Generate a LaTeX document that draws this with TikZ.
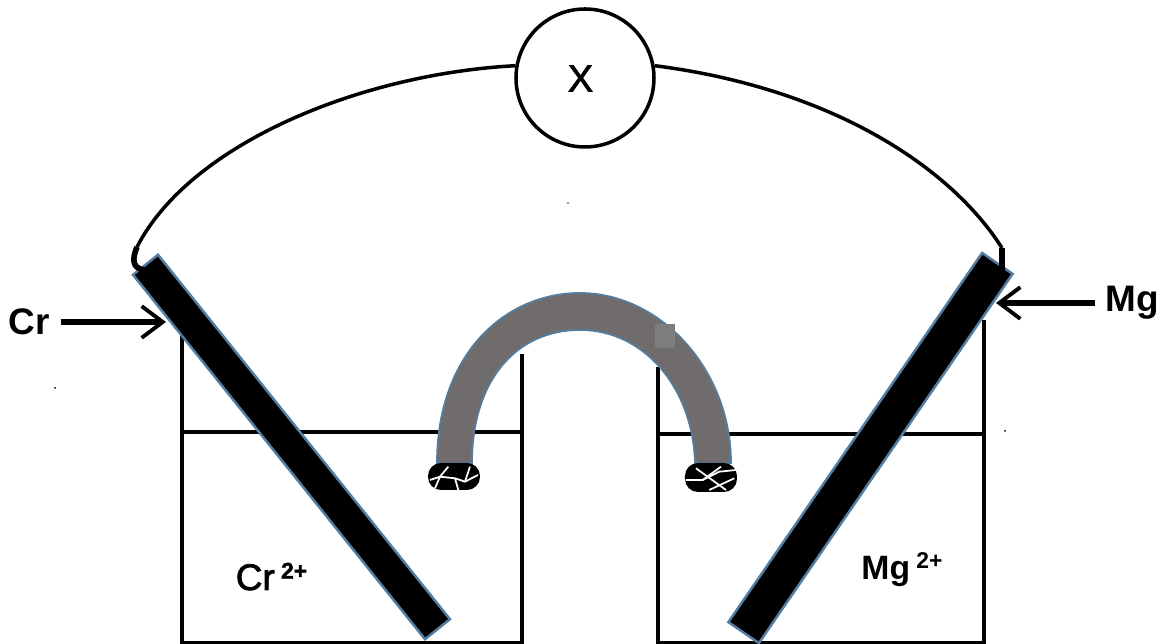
\documentclass[tikz,border=0pt]{standalone}
\usepackage{fontspec}
\setmainfont{Liberation Sans}
\newfontfamily\medfont[FakeBold=2]{Liberation Sans}
\usepackage{xcolor}
\usepackage{tikz}
\usetikzlibrary{arrows.meta, calc}
\definecolor{myblue}{RGB}{85,125,160}
\definecolor{mygray}{RGB}{112,108,108}
\definecolor{mylight}{RGB}{125,125,125}
\definecolor{myspeck}{RGB}{190,110,40}
\newcommand{\ioncharge}[1]{\hspace{1.8pt}\raisebox{3.2pt}{\fontsize{6.5}{8}\selectfont\bfseries #1}}
\tikzset{
  meternode/.style={circle, draw=black, fill=white, minimum size=1.38cm,
    inner sep=0pt, line width=1pt},
  symbolnode/.style={font=\fontsize{10.7}{12}\selectfont\medfont, text=black, inner sep=0pt},
  rodnode/.style={rectangle, draw=myblue, fill=black, inner sep=0pt, line width=0.7pt},
  metalnode/.style={font=\fontsize{10.5}{12}\selectfont\bfseries, text=black, inner sep=0pt},
  ionnode/.style={font=\fontsize{10.5}{12}\selectfont\medfont, text=black, inner sep=0pt, anchor=base},
  plugnode/.style={rectangle, fill=black, inner sep=0pt, rounded corners=0.13cm},
  wall/.style={line width=1.1pt, color=black},
  wire/.style={line width=1pt, color=black},
  level/.style={line width=1pt, color=black},
  pointer/.style={-{Straight Barb[length=6pt, width=9pt, line width=1.1pt]}, line width=1.7pt, color=black},
  net/.style={white, line width=0.5pt}
}
\begin{document}
\begin{tikzpicture}
  \useasboundingbox (0,0) rectangle (11.59,6.44);
  \clip (0,0) rectangle (11.59,6.44);

  % Beakers
  \coordinate (left_a) at (1.82,3.09);
  \coordinate (left_b) at (1.82,0.01);
  \coordinate (left_c) at (5.22,0.01);
  \coordinate (left_d) at (5.22,2.90);
  \coordinate (right_a) at (6.58,2.77);
  \coordinate (right_b) at (6.58,0.01);
  \coordinate (right_c) at (9.84,0.01);
  \coordinate (right_d) at (9.84,3.24);
  \draw[wall] (left_a) -- (left_b) -- (left_c) -- (left_d);
  \draw[wall] (right_a) -- (right_b) -- (right_c) -- (right_d);

  % Solution levels
  \draw[level, line width=1.4pt] (1.82,2.12) -- (4.40,2.12);
  \draw[level] (4.40,2.12) -- (5.22,2.12);
  \draw[level] (6.58,2.10) -- (9.84,2.10);

  % Salt bridge
  \draw[draw=myblue, fill=mygray, line width=0.5pt]
    (4.37,1.81) .. controls (4.37,2.90) and (5.05,3.51) .. (5.80,3.51)
    .. controls (6.60,3.51) and (7.31,2.75) .. (7.31,1.81)
    -- (6.95,1.81) .. controls (6.93,2.55) and (6.45,3.14) .. (5.80,3.14)
    .. controls (5.15,3.14) and (4.72,2.62) .. (4.72,1.81) -- cycle;
  \fill[mylight] (6.55,2.96) rectangle (6.75,3.20);

  % Plugs
  \node[plugnode, minimum width=0.52cm, minimum height=0.27cm] (plug_l) at (4.54,1.675) {};
  \node[plugnode, minimum width=0.52cm, minimum height=0.29cm] (plug_r) at (7.11,1.665) {};
  \draw[net] (4.30,1.64) -- (4.40,1.673) -- (4.55,1.657) -- (4.65,1.623) -- (4.78,1.69);
  \draw[net] (4.40,1.673) -- (4.483,1.773);
  \draw[net] (4.65,1.623) -- (4.70,1.773);
  \draw[net] (4.40,1.673) -- (4.35,1.557);
  \draw[net] (4.55,1.657) -- (4.583,1.54);
  \draw[net] (6.86,1.64) -- (7.027,1.64) -- (7.193,1.723) -- (7.36,1.74);
  \draw[net] (7.21,1.773) -- (7.027,1.64);
  \draw[net] (6.96,1.757) -- (7.26,1.54);
  \draw[net] (7.343,1.657) -- (7.093,1.54);

  % Electrodes
  \node[rodnode, minimum width=4.67cm, minimum height=0.32cm, rotate=-51.3] (rod_cr) at (2.915,1.97) {};
  \node[rodnode, minimum width=4.48cm, minimum height=0.37cm, rotate=55.5] (rod_mg) at (8.705,1.96) {};

  % Meter
  \node[meternode] (meter) at (5.85,5.66) {};
  \node[symbolnode] (meter_x) at (5.805,5.655) {X};

  % Wires
  \coordinate (hook_cr) at (1.37,3.97);
  \coordinate (end_cr) at (1.44,3.74);
  \coordinate (hook_mg) at (10.02,3.96);
  \coordinate (end_mg) at (10.02,3.72);
  \draw[wire] (meter.170) .. controls (3.6,5.7) and (1.9,5.0) .. (hook_cr);
  \draw[wire, line width=1.6pt] (hook_cr) .. controls (1.32,3.85) and (1.32,3.76) .. (end_cr);
  \draw[wire] (meter.10) .. controls (8.3,5.56) and (9.5,4.78) .. (hook_mg);
  \draw[wire, line width=1.5pt] (hook_mg) -- (end_mg);

  % Labels
  \node[metalnode] (lab_cr) at (0.29,3.22) {Cr};
  \node[metalnode] (lab_mg) at (11.32,3.41) {Mg};
  \node[ionnode] (ion_cr) at (2.715,0.54) {Cr\ioncharge{2+}};
  \node[ionnode, font=\fontsize{9.6}{12}\selectfont\bfseries] (ion_mg) at (9.02,0.64) {Mg\ioncharge{2+}};

  % Pointers
  \coordinate (tip_cr) at (1.66,3.22);
  \coordinate (tip_mg) at (9.96,3.41);
  \draw[pointer] (lab_cr.east)+(0.11,0) -- (tip_cr);
  \draw[pointer] (lab_mg.west)+(-0.10,0) -- (tip_mg);

  % Specks
  \fill[myspeck] (5.68,4.41) circle (0.012);
  \fill[black] (0.55,2.56) circle (0.01);
  \fill[black] (10.05,2.13) circle (0.01);
\end{tikzpicture}
\end{document}
